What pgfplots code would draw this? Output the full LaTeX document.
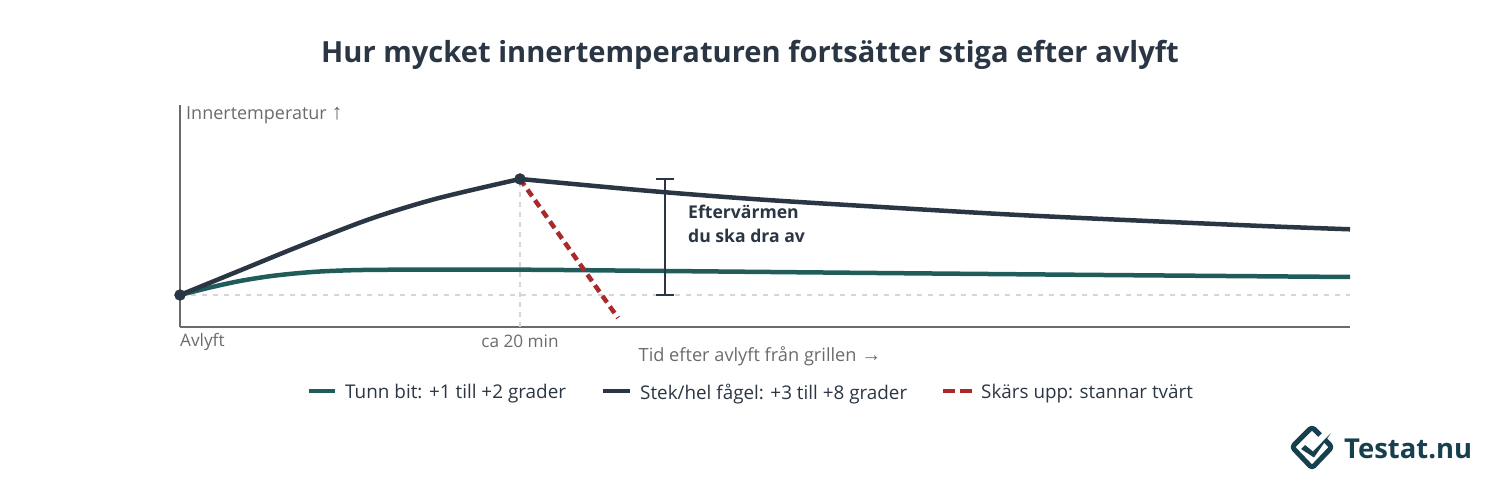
\documentclass[border=0pt]{standalone}
\usepackage{pgfplots}
\pgfplotsset{compat=1.18}
\usepackage{fontspec}
\setmainfont{Open Sans}
\newfontfamily\sym{Liberation Sans}
\definecolor{teal1}{HTML}{1F5C5A}
\definecolor{navy1}{HTML}{2B3644}
\definecolor{red1}{HTML}{A82A2A}
\definecolor{gray1}{HTML}{6B6B6B}
\definecolor{grid1}{HTML}{D6D6D6}
\definecolor{logo1}{HTML}{17404F}
\begin{document}
\begin{tikzpicture}[x=1pt,y=1pt]
\path[use as bounding box] (0,0) rectangle (1500,500);
\node[anchor=center,text=navy1,font=\fontsize{29.1}{34}\selectfont\bfseries] at (750,445) {Hur mycket innertemperaturen fortsätter stiga efter avlyft};
\begin{axis}[
  at={(180pt,173pt)},anchor=south west,
  width=1170pt,height=222pt,scale only axis,
  xmin=0,xmax=1170,ymin=-32,ymax=190,
  axis lines=left,axis line style={gray1,line width=1.8pt,-},
  xtick=\empty,ytick=\empty,clip=false,
]
\addplot[grid1,line width=1.6pt,dash pattern=on 5pt off 6pt] coordinates {(0,0) (1170,0)};
\addplot[grid1,line width=1.6pt,dash pattern=on 5pt off 5pt] coordinates {(340,-32) (340,116)};
\addplot[teal1,line width=4.5pt,smooth,tension=0.5] coordinates {(0,0) (30,7.5) (60,14) (90,18.8) (120,22) (150,24) (200,25.2) (340,25.3) (485,24) (696,22) (923,20) (1170,18)};
\addplot[navy1,line width=4.5pt,smooth,tension=0.5] coordinates {(0,0) (60,24.5) (120,49) (190,76) (257,96.5) (340,116)};
\addplot[navy1,line width=4.5pt,smooth,tension=0.5] coordinates {(340,116) (470,104) (580,95.5) (696,88.3) (820,81) (923,76) (1082,69) (1170,65.7)};
\addplot[red1,line width=4.5pt,dash pattern=on 8pt off 5pt] coordinates {(340,116) (438,-23)};
\addplot[navy1,only marks,mark=*,mark size=5.5pt] coordinates {(0,0) (340,116)};
\addplot[navy1,line width=1.8pt] coordinates {(485,116) (485,0)};
\addplot[navy1,line width=1.8pt] coordinates {(476,116) (494,116)};
\addplot[navy1,line width=1.8pt] coordinates {(476,0) (494,0)};
\end{axis}
\node[anchor=west,inner sep=0pt,text=gray1,font=\fontsize{18}{20}\selectfont] at (186,385) {Innertemperatur {\sym\fontsize{22}{22}\selectfont ↑}};
\node[anchor=west,inner sep=0pt,text=gray1,font=\fontsize{17.2}{18}\selectfont] at (180,158.5) {Avlyft};
\node[anchor=center,inner sep=0pt,text=gray1,font=\fontsize{17.2}{18}\selectfont] at (520,158.5) {ca 20 min};
\node[anchor=center,inner sep=0pt,text=gray1,font=\fontsize{18.2}{19}\selectfont] at (760,144) {Tid efter avlyft från grillen {\sym\fontsize{20}{20}\selectfont →}};
\node[anchor=west,inner sep=0pt,text=navy1,font=\fontsize{17.6}{18}\selectfont\bfseries] at (688,288.5) {Eftervärmen};
\node[anchor=west,inner sep=0pt,text=navy1,font=\fontsize{17.6}{18}\selectfont\bfseries] at (688,264.5) {du ska dra av};
% legend
\draw[teal1,line width=4.5pt] (309,109) -- (335,109);
\node[anchor=west,text=navy1,font=\fontsize{18.9}{21}\selectfont,inner sep=0pt] at (345,106) {Tunn bit: +1 till +2 grader};
\draw[navy1,line width=4.5pt] (603,109) -- (630,109);
\node[anchor=west,text=navy1,font=\fontsize{18.85}{21}\selectfont,inner sep=0pt] at (640,106) {Stek/hel fågel: +3 till +8 grader};
\draw[red1,line width=4.5pt] (943,109) -- (955,109) (960,109) -- (972,109);
\node[anchor=west,text=navy1,font=\fontsize{18.85}{21}\selectfont,inner sep=0pt] at (981,106) {Skärs upp: stannar tvärt};
% logo
\draw[logo1,line width=5pt,line join=round,rounded corners=3pt] (1320,65) -- (1312,73) -- (1292,53) -- (1312,32) -- (1332,53) -- (1325,60);
\fill[logo1] (1301,51) -- (1305,55) -- (1313,48.5) -- (1331,67) -- (1314,42.5) -- cycle;
\node[anchor=west,text=logo1,inner sep=0pt,font=\fontsize{27.4}{30}\selectfont\bfseries] at (1344,51) {Testat.nu};
\end{tikzpicture}
\end{document}
